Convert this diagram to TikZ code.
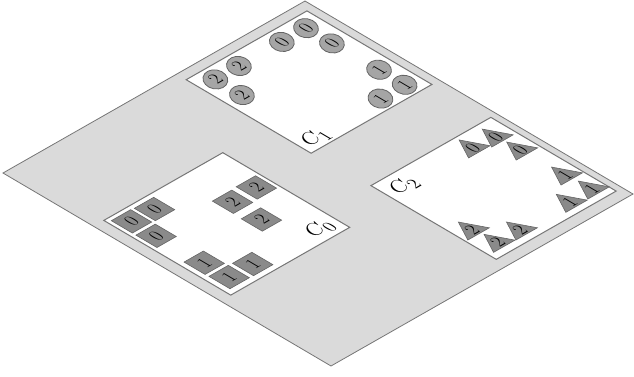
\documentclass[tikz,border=0pt]{standalone}
\usetikzlibrary{shapes.geometric}
\definecolor{planegray}{RGB}{218,218,218}
\definecolor{edgegray}{RGB}{118,118,118}
\definecolor{tokgray}{RGB}{138,138,138}
\definecolor{tokedge}{RGB}{100,100,100}
\definecolor{cirgray}{RGB}{165,165,165}
\tikzset{
  plane/.style={fill=planegray, draw=edgegray, line width=0.8pt},
  board/.style={fill=white, draw=edgegray, line width=1pt},
  digit/.style={transform shape, inner sep=0pt, font=\fontsize{15}{15}\selectfont},
  sqtok/.style={draw=tokedge, fill=tokgray, line width=0.6pt, minimum size=0.64cm, inner sep=0pt},
  tritok/.style={regular polygon, regular polygon sides=3, draw=tokedge, fill=tokgray, line width=0.6pt, minimum size=0.82cm, inner sep=0pt, transform shape},
  cirtok/.style={ellipse, draw=tokedge, fill=cirgray, line width=0.8pt, minimum width=25pt, minimum height=19pt, inner sep=0pt, rotate=-10},
  lab/.style={transform shape, inner sep=0pt, font=\fontsize{19}{19}\selectfont}
}
\begin{document}
\begin{tikzpicture}
\useasboundingbox (0,0) rectangle (634pt,376pt);
\begin{scope}[cm={1.0614,0.6045,-1.1528,0.6783,(331pt,10pt)}]
  % ground plane
  \draw[plane] (0,0) rectangle (10,10);
  % three boards
  \draw[board] (0.34,3.37) rectangle (4.28,7.24);
  \draw[board] (5.75,5.9) rectangle (9.75,9.71);
  \draw[board] (5.83,0.33) rectangle (9.8,4.15);
  % C0 : squares
  \foreach \nm/\x/\y/\d in {a/0.78/6.80/0, b/1.52/6.78/0, c/0.78/6.05/0,
                            d/0.82/4.62/1, e/0.83/3.87/1, f/1.60/3.86/1,
                            g/3.04/5.80/2, h/3.85/5.82/2, i/3.02/4.90/2}{
    \node[sqtok, transform shape] (q\nm) at (\x,\y) {};
    \node[digit] (qt\nm) at (\x,\y) {\d};
  }
  \node[lab] (labC0) at (3.74,3.78) {$C_0$};
  % C1 : circles
  \foreach \nm/\x/\y/\d in {a/9.24/9.27/0, b/8.44/9.27/0, c/9.24/8.48/0,
                            d/6.25/9.28/2, e/7.03/9.28/2, f/6.25/8.47/2,
                            g/9.28/7.08/1, h/9.28/6.30/1, i/8.48/6.30/1}{
    \node[cirtok] (o\nm) at (\x,\y) {};
    \node[digit] (ot\nm) at (\x,\y) {\d};
  }
  \node[lab] (labC1) at (6.28,6.25) {$C_1$};
  % C2 : triangles
  \foreach \nm/\x/\y/\d in {a/8.62/3.62/0, b/9.32/3.56/0, c/9.36/2.85/0,
                            d/9.40/1.52/1, e/9.45/0.75/1, f/8.70/0.73/1,
                            g/6.26/1.47/2, h/6.34/0.76/2, i/7.07/0.75/2}{
    \node[tritok] (t\nm) at (\x,\y) {};
    \node[digit] (tt\nm) at (\x,\y) {\d};
  }
  \node[lab] (labC2) at (6.38,3.64) {$C_2$};
\end{scope}
\end{tikzpicture}
\end{document}
